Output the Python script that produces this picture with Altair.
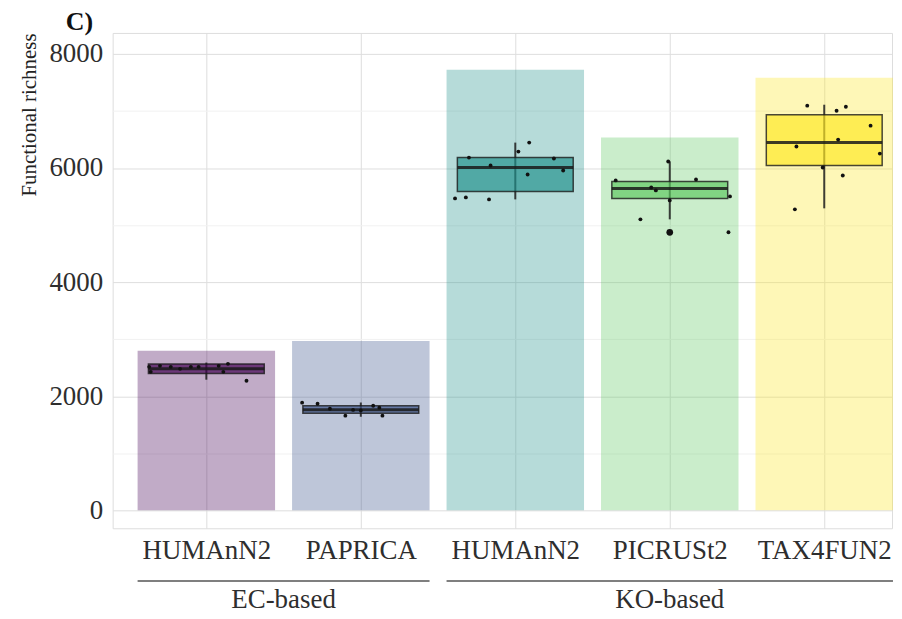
import altair as alt
import pandas as pd

# ---------------- data ----------------
methods = ["HUMAnN2", "PAPRICA", "HUMAnN2", "PICRUSt2", "TAX4FUN2"]
groups = ["EC", "EC", "KO", "KO", "KO"]
group_names = ["EC-based", "KO-based"]
viridis5 = ["#440154", "#3b528b", "#21918c", "#5ec962", "#fde725"]

total_richness = [2795, 2969, 7721, 6533, 7581]
box_q1 = [2400, 1700, 5590, 5467, 6044]
box_median = [2480, 1764, 6009, 5642, 6445]
box_q3 = [2565, 1834, 6183, 5764, 6934]
whisker_lo = [2290, 1640, 5450, 5100, 5293]
whisker_hi = [2590, 1890, 6445, 6114, 7109]

outlier_method = [3]
outlier_value = [4873]

samples_ec_humann2 = [2515, 2428, 2533, 2515, 2480, 2515, 2515, 2533, 2428, 2568, 2271]
jitter_ec_humann2 = [-0.37, -0.36, -0.30, -0.23, -0.17, -0.10, -0.05, 0.08, 0.11, 0.14, 0.26]
samples_ec_paprica = [1887, 1869, 1780, 1660, 1760, 1750, 1834, 1800, 1660]
jitter_ec_paprica = [-0.38, -0.28, -0.20, -0.10, -0.05, 0.00, 0.08, 0.12, 0.14]
samples_ko_humann2 = [5467, 5485, 5450, 6183, 6044, 6288, 6445, 6166, 5956, 5886]
jitter_ko_humann2 = [-0.39, -0.32, -0.17, -0.30, -0.16, 0.02, 0.09, 0.25, 0.31, 0.08]
samples_ko_picrust2 = [6114, 5782, 5799, 5659, 5607, 5432, 5502, 5100, 4873]
jitter_ko_picrust2 = [-0.01, -0.35, 0.17, -0.12, -0.09, 0.00, 0.39, -0.19, 0.38]
samples_ko_tax4fun2 = [7092, 7004, 7074, 6742, 6376, 6498, 6253, 5869, 5275, 6009]
jitter_ko_tax4fun2 = [-0.11, 0.08, 0.14, 0.30, -0.18, 0.09, 0.36, 0.12, -0.19, -0.01]

y_grid_values = [0, 1000, 2000, 3000, 4000, 5000, 6000, 7000, 8000]

# ---------------- tables ----------------
pos = list(range(1, len(methods) + 1))     # category slot on the x axis
BAR_HALF = 0.445                            # half width of background bars (in slots)
BOX_HALF = 0.375                            # half width of boxes (in slots)

summary = pd.DataFrame({
    "pos": pos, "method": methods, "total": total_richness, "q1": box_q1,
    "med": box_median, "q3": box_q3, "lo": whisker_lo, "hi": whisker_hi,
})

sample_sets = [
    (samples_ec_humann2, jitter_ec_humann2),
    (samples_ec_paprica, jitter_ec_paprica),
    (samples_ko_humann2, jitter_ko_humann2),
    (samples_ko_picrust2, jitter_ko_picrust2),
    (samples_ko_tax4fun2, jitter_ko_tax4fun2),
]
rows = []
for p, (vals, jit) in zip(pos, sample_sets):
    for v, j in zip(vals, jit):
        rows.append({"pos": p, "val": v, "jit": j})
points_df = pd.DataFrame(rows)

outliers_df = pd.DataFrame({"pos": [pos[i] for i in outlier_method], "val": outlier_value})

grp_rows = []
for gcode, gname in zip(["EC", "KO"], group_names):
    members = [p for p, g in zip(pos, groups) if g == gcode]
    grp_rows.append({"name": gname, "first": members[0], "last": members[-1]})
groups_df = pd.DataFrame(grp_rows)

# ---------------- scales / axes ----------------
FONT = "Liberation Serif"
PLOT_W, PLOT_H = 782, 497

label_array = "[" + ",".join("'" + m + "'" for m in methods) + "]"
x_scale = alt.Scale(domain=[0.3935, 5.4387], nice=False, zero=False)
y_scale = alt.Scale(domain=[-314, 8367], nice=False, zero=False)
color = alt.Color("method_pos:N", scale=alt.Scale(domain=[str(p) for p in pos], range=viridis5),
                  legend=None)

x_axis = alt.Axis(
    title=None, values=pos, labelExpr=label_array + "[datum.value - 1]", labelAngle=0,
    labelFont=FONT, labelFontSize=27, labelColor="#2e2e2e", labelPadding=9,
    labelFlush=False, labelOverlap=False,
    ticks=False, domain=False, grid=True, gridColor="#dedede", gridWidth=1,
)
y_axis = alt.Axis(
    values=y_grid_values, format="d",
    labelExpr="datum.value % 2000 === 0 ? datum.label : ''",
    gridColor={"condition": {"test": "datum.value % 2000 === 0", "value": "#dedede"},
               "value": "#f1f1f1"},
    ticks=False, domain=False, labelPadding=10,
    labelFont=FONT, labelFontSize=27, labelColor="#2e2e2e",
    title="Functional richness", titleFont=FONT, titleFontSize=21,
    titleFontWeight="normal", titleColor="#222222", titleAnchor="end", titlePadding=9,
)

base = alt.Chart(summary).transform_calculate(
    method_pos="'' + datum.pos",
    bx0=f"datum.pos - {BAR_HALF}", bx1=f"datum.pos + {BAR_HALF}",
    kx0=f"datum.pos - {BOX_HALF}", kx1=f"datum.pos + {BOX_HALF}",
)

# ---------------- layers ----------------
bars = base.mark_bar(opacity=0.33).encode(
    x=alt.X("bx0:Q", scale=x_scale, axis=x_axis),
    x2="bx1:Q",
    y=alt.Y("total:Q", scale=y_scale, axis=y_axis),
    y2=alt.datum(0),
    color=color,
)

whiskers = base.mark_rule(color="#1e1e1e", strokeWidth=2, opacity=0.85).encode(
    x="pos:Q", y="lo:Q", y2="hi:Q",
)

boxes = base.mark_rect(
    fillOpacity=0.68, stroke="#1a1a1a", strokeWidth=1.5, strokeOpacity=0.8,
).encode(x="kx0:Q", x2="kx1:Q", y="q1:Q", y2="q3:Q", color=color)

medians = base.mark_rule(color="#1a1a1a", strokeWidth=3, opacity=0.85).encode(
    x="kx0:Q", x2="kx1:Q", y="med:Q",
)

pts = alt.Chart(points_df).transform_calculate(px="datum.pos + datum.jit").mark_circle(
    size=15, color="#111111", opacity=1
).encode(x="px:Q", y="val:Q")

outs = alt.Chart(outliers_df).mark_circle(size=45, color="#111111", opacity=1).encode(
    x="pos:Q", y="val:Q",
)

gbase = alt.Chart(groups_df).transform_calculate(
    gx0=f"datum.first - {BAR_HALF}", gx1=f"datum.last + {BAR_HALF}",
    gmid="(datum.first + datum.last) / 2",
)
glines = gbase.mark_rule(color="#555555", strokeWidth=1.5).encode(
    x="gx0:Q", x2="gx1:Q", y=alt.value(PLOT_H + 53),
)
gtext = gbase.mark_text(
    font=FONT, fontSize=27, color="#2e2e2e", baseline="alphabetic", align="center",
).encode(x="gmid:Q", y=alt.value(PLOT_H + 80), text="name:N")

chart = alt.layer(bars, whiskers, boxes, medians, pts, outs, glines, gtext).properties(
    width=PLOT_W, height=PLOT_H,
    title=alt.TitleParams("C)", anchor="start", frame="group", dx=-47, offset=-2,
                          font=FONT, fontSize=26, fontWeight="bold", color="#111111"),
    padding={"left": 10, "top": 0, "right": 0, "bottom": 0},
).configure_view(stroke=None).configure(background="white")

chart.save("out.html", embed_options={"renderer": "svg", "actions": False})
